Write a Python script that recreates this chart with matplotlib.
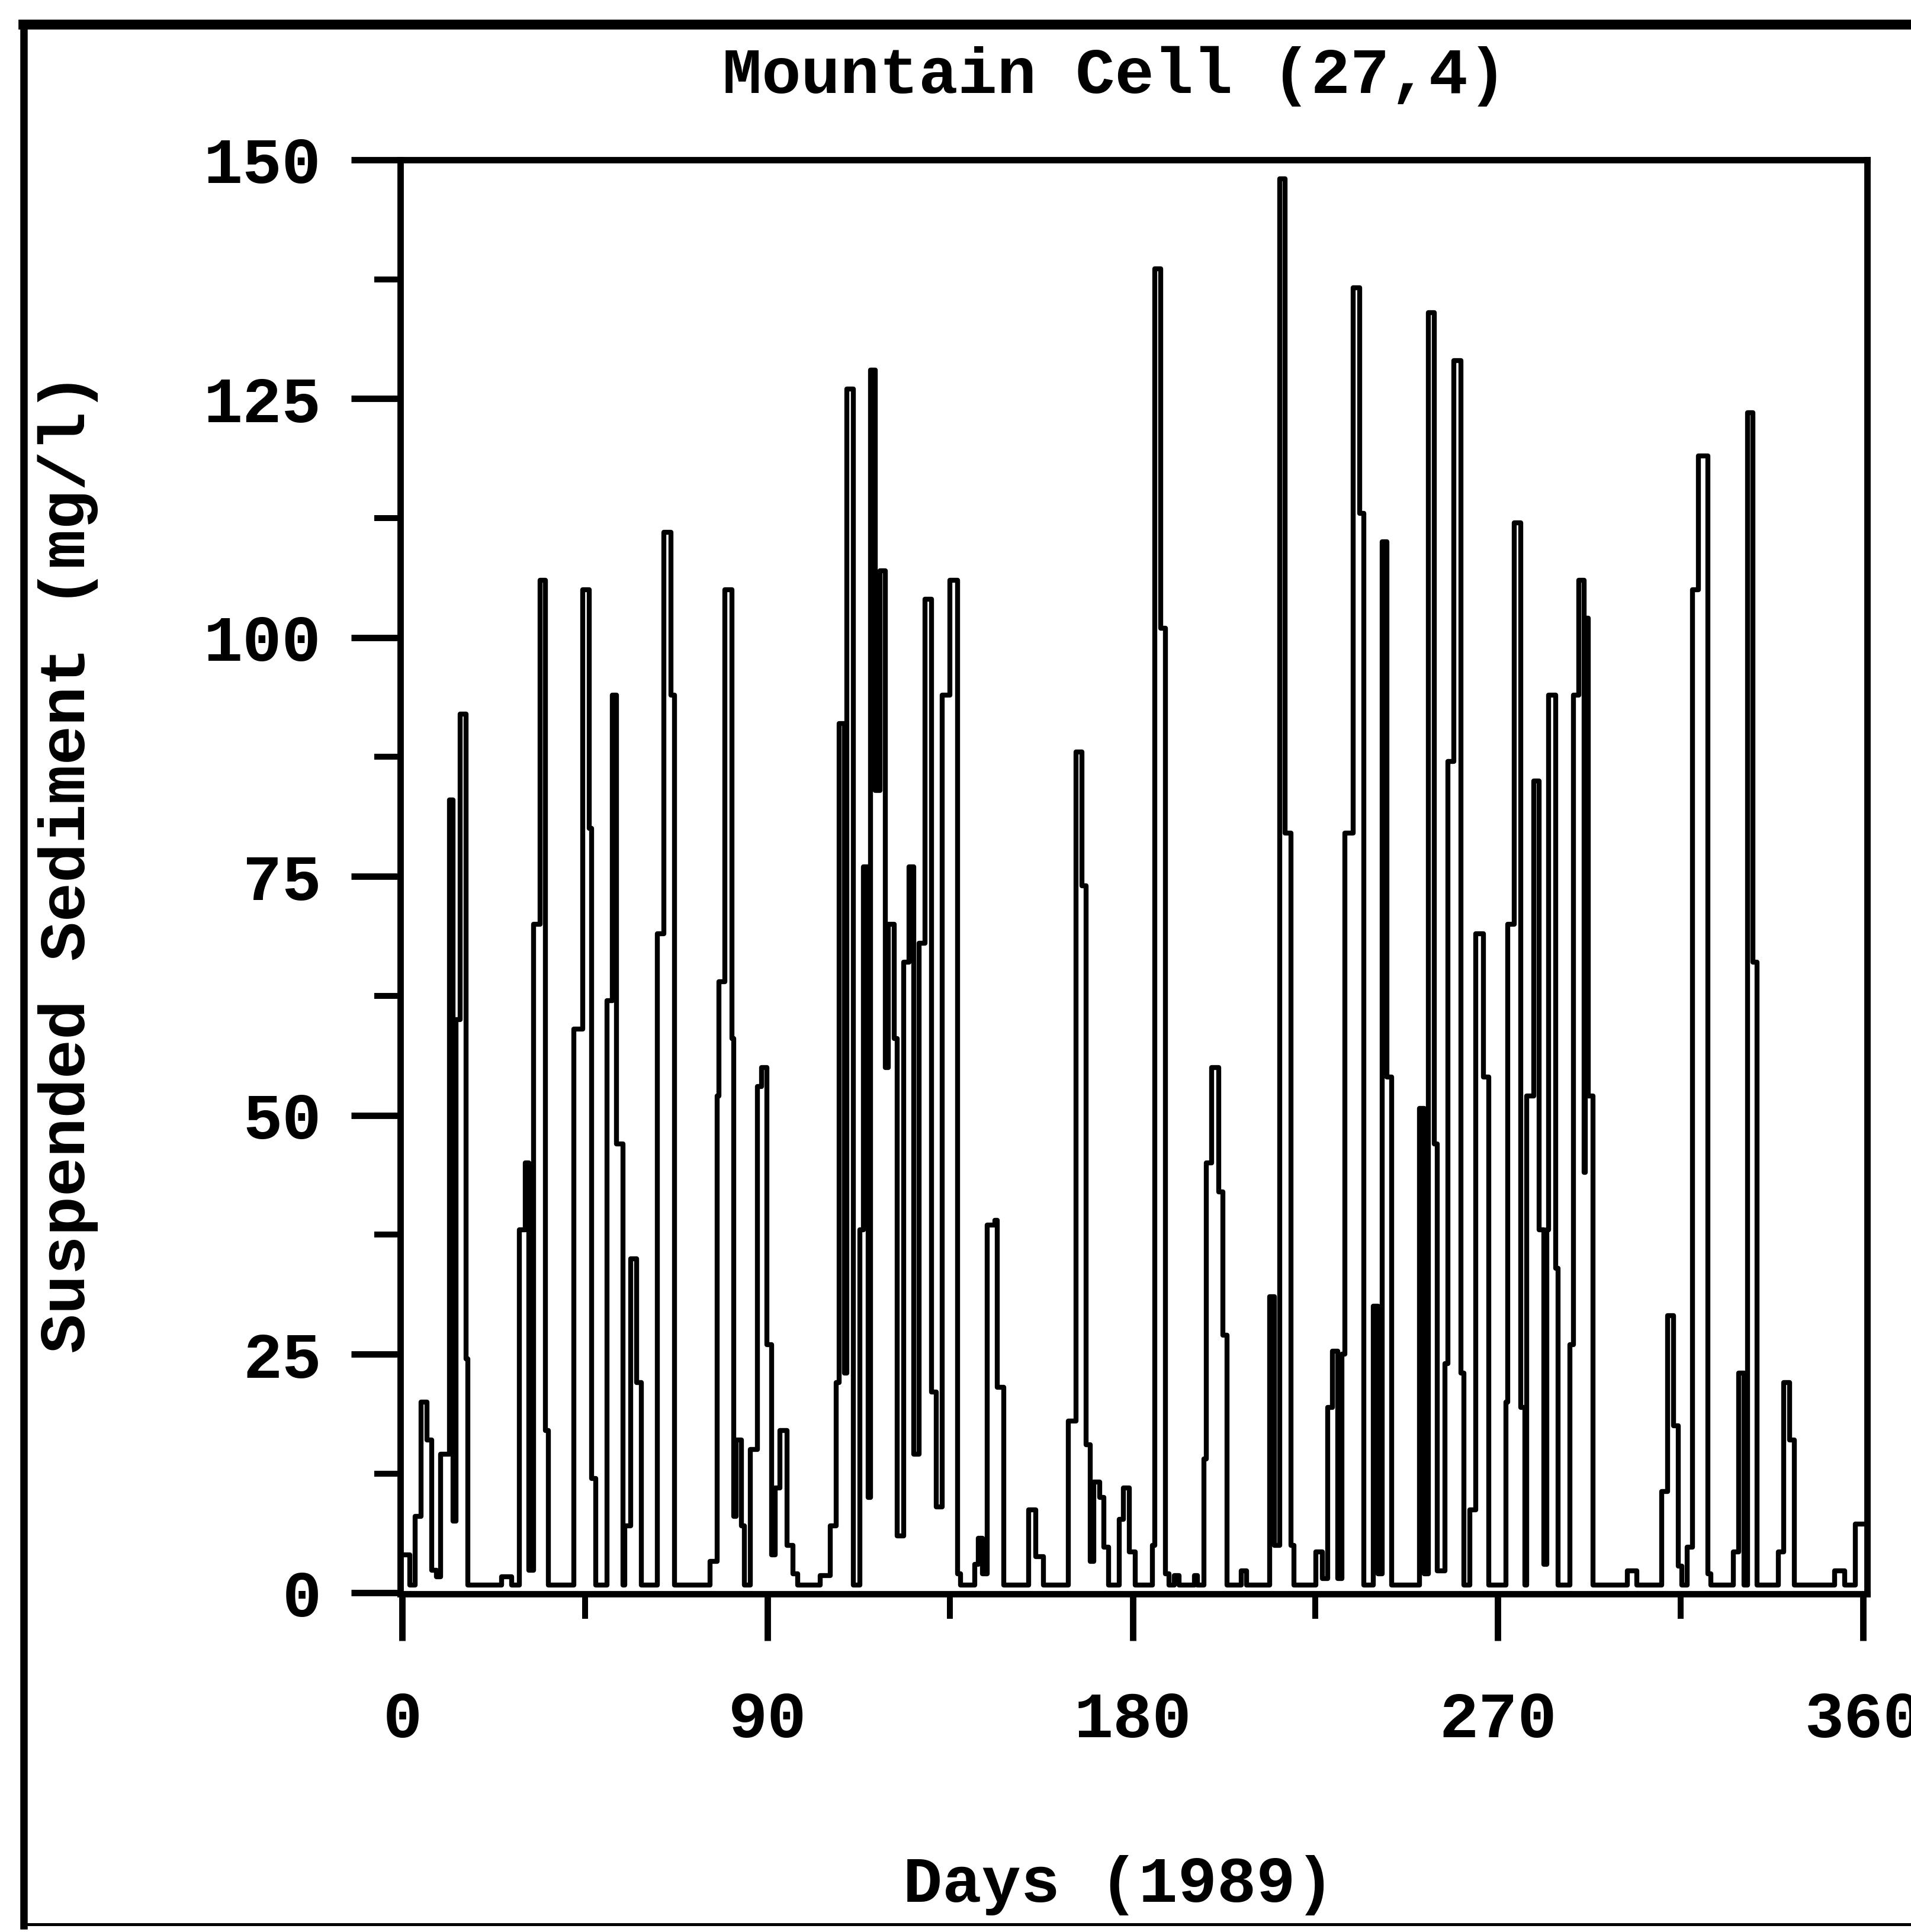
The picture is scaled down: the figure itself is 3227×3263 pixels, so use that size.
import matplotlib.pyplot as plt
from matplotlib.lines import Line2D
from matplotlib.ticker import MultipleLocator

# Data: step change points (day, suspended sediment mg/l)
day_pts = [
    0.0, 1.9, 3.1, 4.6, 6.0, 7.2, 8.4, 9.4, 11.6, 12.5, 13.2, 14.2, 15.7, 16.2,
    24.5, 26.9, 28.8, 30.3, 31.2, 32.4, 34.0, 35.2, 36.0,
    42.3, 44.5, 46.0, 46.6, 47.7, 50.4, 51.8, 52.8, 54.3, 54.8, 56.2, 57.7, 58.9,
    62.8, 64.5, 66.2, 67.1, 75.8, 77.6, 78.0, 79.5, 81.2, 81.7, 82.2, 83.6, 84.3,
    85.8, 87.5, 88.5, 89.8, 91.0, 91.9, 93.1, 94.8, 96.2, 97.5,
    103.0, 105.4, 106.9, 107.6, 108.9, 109.6, 111.2,
    112.7, 113.6, 114.8, 115.4, 116.6, 117.7, 119.0, 119.7, 121.2, 121.9,
    123.6, 124.8, 126.0, 127.3, 128.8, 130.4, 131.6, 133.1, 135.0, 136.8, 137.5,
    141.0, 142.0, 143.0, 144.2, 146.0, 146.6, 148.2,
    154.4, 156.1, 158.0, 164.1, 166.1, 167.5, 168.5, 169.5, 170.4, 171.9, 172.9, 174.1,
    176.7, 177.7, 179.2, 180.6, 184.8, 185.5, 186.9, 188.1, 189.0, 190.3, 191.5,
    195.2, 196.0, 197.6, 198.1, 199.5, 201.2, 202.2, 203.2, 206.8, 208.0,
    213.8, 215.0, 216.3, 217.6, 219.0, 219.8,
    225.2, 226.7, 228.1, 229.3, 230.6, 231.6, 232.3, 234.4, 235.9, 236.9,
    239.3, 240.5, 241.5, 242.7, 243.9,
    250.7, 251.8, 252.9, 254.3, 255.0, 257.0, 257.7, 259.2, 260.9, 261.6,
    263.1, 264.5, 266.5, 267.7,
    272.0, 272.5, 274.0, 275.7, 276.6, 277.1, 278.8, 280.2, 281.3, 282.0, 282.5,
    284.2, 284.9, 287.8, 288.7, 290.0, 291.2, 291.6, 292.3, 293.5,
    301.9, 304.3, 310.4, 311.8, 313.3, 314.5, 315.4, 316.7, 318.0, 319.5, 321.7, 322.5,
    328.0, 329.3, 330.7, 331.5, 332.9, 333.9,
    339.2, 340.4, 341.9, 343.1, 353.0, 355.5, 358.1, 360.0,
]
sed_pts = [
    4, 0.8, 8, 20, 16, 2.4, 1.7, 14.5, 83, 7.5, 60, 92, 24.5, 0.8,
    1.7, 0.8, 38, 45, 2.4, 70, 106, 17, 0.8,
    59, 105, 80, 12, 0.8, 62, 94, 47, 0.8, 7, 35, 22, 0.8,
    69, 111, 94, 0.8, 3.3, 52, 64, 105, 58, 8, 16, 7, 0.8,
    15, 53, 55, 26, 4, 11, 17, 5, 2, 0.8,
    1.8, 7, 22, 91, 23, 126, 0.8,
    38, 76, 10, 128, 84, 107, 55, 70, 58, 6,
    66, 76, 14.5, 68, 104, 21, 9, 94, 106, 2, 0.8,
    3, 5.7, 2, 38.5, 39, 21.5, 0.8,
    8.7, 3.8, 0.8, 18, 88, 74, 15.5, 3.3, 11.6, 10, 4.8, 0.8,
    7.7, 11, 4.3, 0.8, 5, 138.6, 101, 2, 0.8, 1.8, 0.8,
    1.8, 0.8, 14, 45, 55, 42, 27, 0.8, 2.3, 0.8,
    31, 5, 148, 79.5, 5, 0.8,
    4.3, 1.5, 19.4, 25.3, 1.5, 25, 79.5, 136.6, 113, 0.8,
    30, 2, 110, 54, 0.8,
    50.7, 2, 134, 47, 2.3, 24, 87, 129, 23, 0.8,
    8.7, 69, 54, 0.8,
    20, 70, 112, 19.4, 0.8, 52, 85, 38, 3, 38, 94,
    34, 0.8, 26, 94, 106, 44, 102, 52, 0.8,
    2.3, 0.8, 10.6, 29, 17.5, 2.8, 0.8, 4.8, 105, 119, 2, 0.8,
    4.3, 23, 0.8, 123.5, 66, 0.8,
    4.3, 22, 16, 0.8, 2.3, 0.8, 7.2, 7.2,
]

x_ticks = [0, 90, 180, 270, 360]
y_ticks = [0, 25, 50, 75, 100, 125, 150]

font = {"family": "Liberation Mono", "weight": "bold", "size": 26.5}

fig = plt.figure(figsize=(3227 / 300, 3263 / 300), dpi=300)
ax = fig.add_axes([0.2095, 0.175, 0.9675 - 0.2095 + 0.0095, 0.9173 - 0.175])

ax.step(day_pts, sed_pts, where="post", color="black", lw=2.0)

ax.set_xlim(-0.5, 361)
ax.set_ylim(-0.1, 150)
ax.set_xticks(x_ticks)
ax.set_yticks(y_ticks)
ax.xaxis.set_minor_locator(MultipleLocator(45))
ax.yaxis.set_minor_locator(MultipleLocator(12.5))
ax.set_xticklabels([str(v) for v in x_ticks], fontdict=font)
ax.set_yticklabels([str(v) for v in y_ticks], fontdict=font)
ax.tick_params(which="major", direction="out", width=2.6, color="black")
ax.tick_params(axis="y", which="major", length=20, pad=12)
ax.tick_params(axis="x", which="major", length=19, pad=20)
ax.tick_params(axis="y", which="minor", direction="out", length=10.5, width=2.4)
ax.tick_params(axis="x", which="minor", direction="out", length=10, width=2.4)
for s in ax.spines.values():
    s.set_linewidth(2.6)

fig.text(0.5835, 0.9605, "Mountain Cell (27,4)", ha="center", va="center", **font)
fig.text(0.0355, 0.5536, "Suspended Sediment (mg/l)", ha="center", va="center",
         rotation=90, **font)
fig.text(0.5854, 0.0242, "Days (1989)", ha="center", va="center", **font)

# outer frame of the scanned page
fig.add_artist(Line2D([0.012, 1.0], [0.9875, 0.9875], transform=fig.transFigure,
                      color="black", lw=4))
fig.add_artist(Line2D([0.0125, 0.0125], [0.0035, 0.9875], transform=fig.transFigure,
                      color="black", lw=3))
fig.add_artist(Line2D([0.012, 1.0], [0.004, 0.004], transform=fig.transFigure,
                      color="black", lw=1.2))

fig.savefig("out.png", dpi=300, facecolor="white")
